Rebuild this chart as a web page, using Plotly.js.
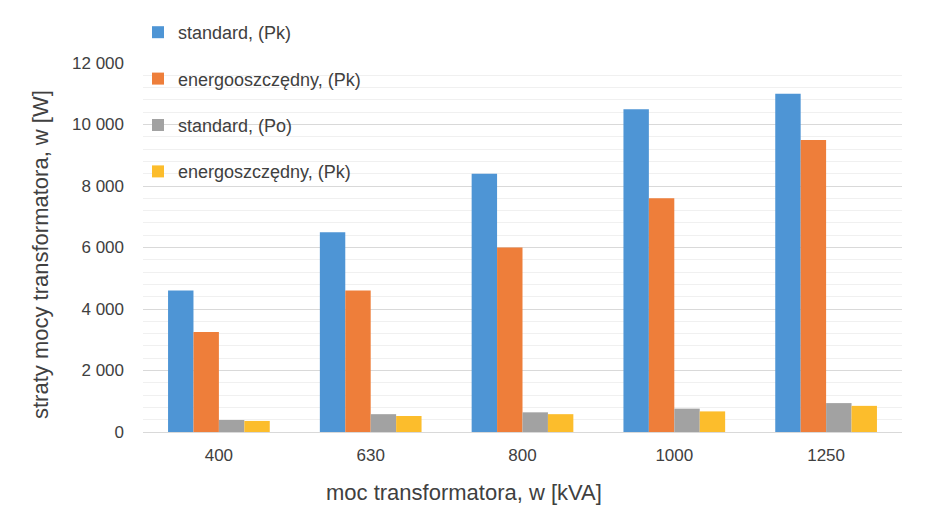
<!DOCTYPE html>
<html>
<head>
<meta charset="utf-8">
<script src="https://cdn.plot.ly/plotly-3.0.1.min.js"></script>
<style>html,body{margin:0;padding:0;background:#fff;}#chart{width:940px;height:520px;}</style>
</head>
<body>
<div id="chart"></div>
<script>
const categories = ['400', '630', '800', '1000', '1250'];
const seriesNames = ['standard, (Pk)', 'energooszczędny, (Pk)', 'standard, (Po)', 'energoszczędny, (Pk)'];
const standardPk = [4600, 6500, 8400, 10500, 11000];
const energyPk = [3250, 4600, 6000, 7600, 9500];
const standardPo = [390, 580, 640, 760, 940];
const energyPo = [360, 520, 580, 670, 850];
const yTicks = [0, 2000, 4000, 6000, 8000, 10000, 12000];
const yTickLabels = ['0', '2 000', '4 000', '6 000', '8 000', '10 000', '12 000'];
const colors = ['#4E95D5', '#EE7E3A', '#A2A2A2', '#FCBD2C'];

const values = [standardPk, energyPk, standardPo, energyPo];
const traces = values.map((v, i) => ({
  type: 'bar',
  x: categories,
  y: v,
  name: seriesNames[i],
  legendgroup: 'g' + i,
  marker: {color: colors[i]},
  hoverinfo: 'x+y+name'
}));

const W = 940, H = 520, L = 143, R = 38, T = 63, B = 88;
const pw = W - L - R, ph = H - T - B;

const layout = {
  width: W, height: H,
  margin: {l: L, r: R, t: T, b: B},
  paper_bgcolor: '#fff', plot_bgcolor: '#fff',
  font: {family: 'Liberation Sans, Arial, sans-serif', color: '#404040', size: 17},
  barmode: 'group',
  bargap: 0.33,
  bargroupgap: 0,
  showlegend: true,
  legend: {
    x: (138 - L) / pw, xanchor: 'left', y: 1 + (T - 14) / ph, yanchor: 'top',
    bgcolor: 'rgba(0,0,0,0)',
    font: {size: 18, color: '#404040'},
    tracegroupgap: 20
  },
  xaxis: {
    type: 'category',
    showgrid: false,
    showline: true, linecolor: '#d9d9d9', linewidth: 1,
    ticks: '', ticklen: 0,
    ticklabelstandoff: 8,
    tickfont: {size: 17, color: '#404040'},
    zeroline: false
  },
  yaxis: {
    range: [0, 12000],
    tickvals: yTicks, ticktext: yTickLabels,
    showgrid: true, gridcolor: '#d9d9d9', gridwidth: 1,
    minor: {dtick: 400, showgrid: true, gridcolor: '#f0f0f0', gridwidth: 1},
    zeroline: false,
    showline: false,
    ticks: '',
    ticklabelstandoff: 18,
    tickfont: {size: 17, color: '#404040'}
  },
  annotations: [{
    text: 'moc transformatora, w [kVA]',
    xref: 'paper', yref: 'paper',
    x: (464 - L) / pw, y: -(492 - (H - B)) / ph,
    xanchor: 'center', yanchor: 'middle',
    showarrow: false,
    font: {size: 22, color: '#404040'}
  }, {
    text: 'straty mocy transformatora, w [W]',
    xref: 'paper', yref: 'paper',
    x: -(L - 40) / pw, y: ((H - B) - 254) / ph,
    xanchor: 'center', yanchor: 'middle',
    textangle: -90,
    showarrow: false,
    font: {size: 22, color: '#404040'}
  }]
};

Plotly.newPlot('chart', traces, layout, {displayModeBar: false, staticPlot: true});
</script>
</body>
</html>
